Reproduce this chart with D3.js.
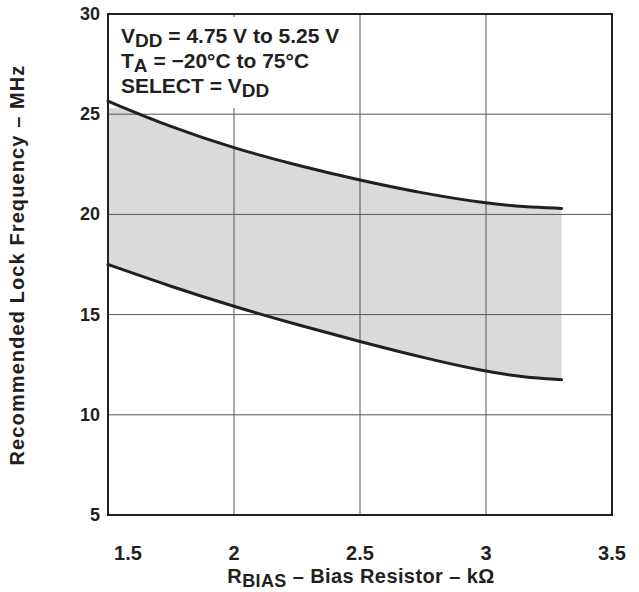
<!DOCTYPE html>
<html>
<head>
<meta charset="utf-8">
<script src="https://d3js.org/d3.v7.min.js"></script>
<style>
body { margin: 0; background: #fff; }
text { font-family: "Liberation Sans", Arial, sans-serif; font-weight: bold; fill: #231f20; }
</style>
</head>
<body>
<svg id="svg"></svg>
<script>
// data
var rBias = [1.5, 1.75, 2, 2.25, 2.5, 2.75, 3, 3.15, 3.3];
var upperFreq = [25.65, 24.35, 23.3, 22.45, 21.7, 21.05, 20.55, 20.38, 20.3];
var lowerFreq = [17.5, 16.4, 15.4, 14.5, 13.65, 12.85, 12.15, 11.88, 11.75];
var xTicks = [1.5, 2, 2.5, 3, 3.5];
var yTicks = [5, 10, 15, 20, 25, 30];

var width = 639, height = 592;
var pLeft = 108, pRight = 612, pTop = 14, pBottom = 515;

var svg = d3.select("#svg").attr("width", width).attr("height", height);

var x = d3.scaleLinear().domain([1.5, 3.5]).range([pLeft, pRight]);
var y = d3.scaleLinear().domain([5, 30]).range([pBottom, pTop]);

var pts = rBias.map(function(r, i) { return {r: r, hi: upperFreq[i], lo: lowerFreq[i]}; });

// shaded band
var area = d3.area()
    .x(function(d) { return x(d.r); })
    .y0(function(d) { return y(d.lo); })
    .y1(function(d) { return y(d.hi); })
    .curve(d3.curveBasis);
svg.append("path").datum(pts).attr("d", area).attr("fill", "#d9dadc");

// grid
svg.append("g").selectAll("line").data(xTicks.slice(1, -1)).enter().append("line")
    .attr("x1", function(d) { return x(d); }).attr("x2", function(d) { return x(d); })
    .attr("y1", pTop).attr("y2", pBottom)
    .attr("stroke", "#555").attr("stroke-width", 1);
svg.append("g").selectAll("line").data(yTicks.slice(1, -1)).enter().append("line")
    .attr("x1", pLeft).attr("x2", pRight)
    .attr("y1", function(d) { return y(d); }).attr("y2", function(d) { return y(d); })
    .attr("stroke", "#555").attr("stroke-width", 1);

// white box behind the notes
svg.append("rect").attr("x", pLeft + 1).attr("y", pTop + 3)
    .attr("width", 245).attr("height", 91).attr("fill", "#fff");

// curves
var line = function(key) {
    return d3.line()
        .x(function(d) { return x(d.r); })
        .y(function(d) { return y(d[key]); })
        .curve(d3.curveBasis);
};
svg.append("path").datum(pts).attr("d", line("hi"))
    .attr("fill", "none").attr("stroke", "#231f20").attr("stroke-width", 3).attr("stroke-linecap", "round");
svg.append("path").datum(pts).attr("d", line("lo"))
    .attr("fill", "none").attr("stroke", "#231f20").attr("stroke-width", 3).attr("stroke-linecap", "round");

// frame
svg.append("rect").attr("x", pLeft).attr("y", pTop)
    .attr("width", pRight - pLeft).attr("height", pBottom - pTop)
    .attr("fill", "none").attr("stroke", "#231f20").attr("stroke-width", 2);

// tick labels
svg.append("g").selectAll("text").data(xTicks).enter().append("text")
    .attr("x", function(d) { return x(d) + (d === 1.5 ? 20 : 0); })
    .attr("y", 560)
    .attr("text-anchor", "middle").attr("font-size", 20)
    .text(function(d) { return d; });
svg.append("g").selectAll("text").data(yTicks).enter().append("text")
    .attr("x", 100).attr("y", function(d) { return y(d) + 6; })
    .attr("text-anchor", "end").attr("font-size", 18)
    .text(function(d) { return d; });

// notes
var notes = svg.append("g").attr("font-size", 21);
var t1 = notes.append("text").attr("x", 121).attr("y", 43);
t1.append("tspan").text("V");
t1.append("tspan").attr("dy", 4).attr("font-size", 19).text("DD");
t1.append("tspan").attr("dy", -4).text(" = 4.75 V to 5.25 V");
var t2 = notes.append("text").attr("x", 121).attr("y", 68);
t2.append("tspan").text("T");
t2.append("tspan").attr("dy", 4).attr("font-size", 19).text("A");
t2.append("tspan").attr("dy", -4).text(" = \u221220\u00b0C to 75\u00b0C");
var t3 = notes.append("text").attr("x", 121).attr("y", 93);
t3.append("tspan").text("SELECT = V");
t3.append("tspan").attr("dy", 4).attr("font-size", 19).text("DD");

// axis titles
var xt = svg.append("text").attr("x", 361).attr("y", 583)
    .attr("text-anchor", "middle").attr("font-size", 20).attr("letter-spacing", 0.4);
xt.append("tspan").text("R");
xt.append("tspan").attr("dy", 4).attr("font-size", 18).text("BIAS");
xt.append("tspan").attr("dy", -4).text(" \u2013 Bias Resistor \u2013 k\u03a9");

svg.append("text")
    .attr("transform", "translate(24," + 265 + ") rotate(-90)")
    .attr("text-anchor", "middle").attr("font-size", 20).attr("letter-spacing", 1.1)
    .text("Recommended Lock Frequency \u2013 MHz");
</script>
</body>
</html>
